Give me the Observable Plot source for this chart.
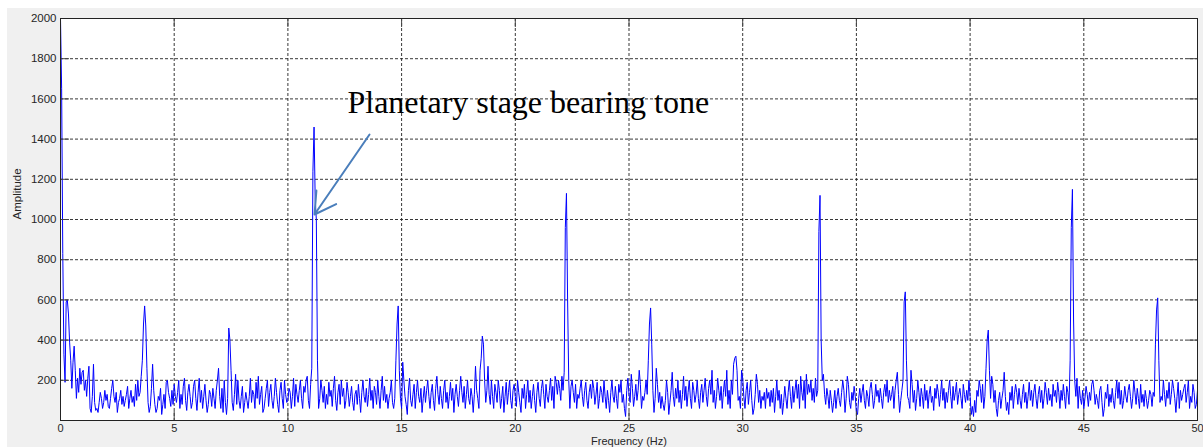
<!DOCTYPE html>
<html>
<head>
<meta charset="utf-8">
<script src="https://cdn.jsdelivr.net/npm/d3@7"></script>
<script src="https://cdn.jsdelivr.net/npm/@observablehq/plot@0.6"></script>
<style>
html, body { margin: 0; padding: 0; background: #ffffff; }
#wrap { position: absolute; left: 7px; top: 8px; width: 1196px; height: 439px; background: #f0f0f0; overflow: hidden; }
</style>
</head>
<body>
<div id="wrap"></div>
<script>
// Spectrum sampled every 0.05 Hz from 0 to 50 Hz (one row = 1 Hz)
const freqStep = 0.05;
const amplitude = [
  2000, 1650, 830, 330, 190, 590, 600, 530, 390, 300, 160, 290, 370, 250, 110, 210, 140, 260, 180, 240,
  250, 150, 200, 120, 210, 270, 60, 40, 120, 280, 90, 50, 60, 40, 90, 140, 110, 60, 90, 150,
  100, 130, 70, 60, 110, 160, 200, 120, 90, 140, 40, 90, 110, 150, 80, 120, 70, 100, 130, 170,
  60, 110, 150, 90, 120, 70, 180, 100, 200, 120, 140, 220, 300, 480, 570, 470, 260, 90, 40, 70,
  160, 280, 150, 80, 40, 60, 120, 100, 160, 30, 80, 130, 60, 190, 200, 140, 110, 70, 150, 80,
  180, 120, 90, 140, 200, 60, 130, 80, 170, 210, 100, 50, 140, 180, 120, 60, 90, 170, 200, 110,
  50, 140, 210, 90, 150, 60, 120, 180, 100, 40, 80, 150, 130, 70, 160, 110, 60, 150, 200, 260,
  120, 60, 160, 40, 200, 90, 30, 110, 460, 400, 250, 90, 50, 130, 230, 80, 200, 100, 60, 120,
  170, 40, 90, 140, 100, 60, 120, 210, 90, 150, 130, 60, 190, 110, 220, 80, 130, 170, 40, 60,
  110, 160, 200, 70, 140, 180, 100, 60, 120, 210, 140, 80, 40, 150, 190, 110, 60, 200, 130, 90,
  100, 160, 140, 60, 120, 210, 70, 180, 130, 90, 150, 200, 110, 60, 170, 140, 200, 220, 100, 60,
  180, 260, 1240, 1460, 1100, 1000, 300, 60, 110, 200, 150, 90, 170, 60, 130, 80, 190, 120, 150, 70,
  160, 220, 100, 50, 140, 180, 80, 200, 120, 160, 60, 100, 190, 140, 70, 120, 170, 90, 50, 130,
  150, 80, 180, 110, 40, 140, 200, 120, 90, 160, 70, 130, 210, 100, 150, 60, 170, 140, 80, 200,
  120, 60, 150, 220, 100, 170, 90, 130, 60, 110, 140, 200, 90, 60, 110, 300, 480, 570, 250, 110,
  60, 290, 200, 120, 80, 30, 150, 210, 100, 70, 130, 180, 60, 140, 200, 120, 90, 160, 40, 110,
  170, 90, 150, 200, 120, 60, 140, 180, 100, 50, 160, 220, 130, 80, 170, 110, 60, 150, 200, 90,
  140, 60, 120, 190, 100, 160, 40, 130, 180, 120, 70, 150, 220, 140, 90, 170, 60, 130, 200, 110,
  80, 160, 120, 40, 130, 270, 150, 110, 60, 250, 310, 420, 380, 200, 90, 150, 270, 130, 80, 200,
  120, 60, 180, 140, 90, 200, 150, 60, 110, 170, 40, 120, 190, 80, 140, 200, 100, 60, 150, 180,
  120, 70, 200, 140, 90, 40, 160, 110, 180, 60, 130, 200, 90, 150, 60, 120, 180, 100, 40, 140,
  190, 110, 70, 160, 200, 130, 60, 180, 120, 90, 150, 210, 100, 170, 60, 220, 190, 130, 200, 160,
  100, 220, 150, 240, 960, 1130, 600, 200, 60, 170, 200, 140, 90, 180, 60, 130, 110, 160, 200, 120,
  70, 150, 190, 100, 60, 140, 180, 110, 200, 160, 80, 130, 190, 60, 110, 170, 140, 90, 200, 120,
  60, 150, 100, 40, 140, 200, 120, 90, 170, 110, 60, 180, 140, 200, 90, 130, 60, 20, 150, 210,
  130, 90, 230, 160, 70, 120, 180, 100, 150, 250, 180, 60, 120, 100, 140, 200, 130, 300, 480, 560,
  380, 150, 40, 110, 260, 180, 90, 140, 60, 120, 80, 50, 100, 200, 140, 30, 90, 150, 240, 120,
  70, 160, 110, 200, 90, 150, 60, 130, 220, 100, 170, 70, 140, 200, 110, 60, 190, 150, 90, 130,
  200, 110, 60, 140, 180, 90, 150, 210, 120, 70, 160, 200, 130, 250, 90, 150, 60, 120, 210, 150,
  100, 170, 60, 140, 200, 120, 250, 80, 150, 60, 200, 130, 280, 310, 320, 250, 100, 120, 60, 250,
  210, 120, 60, 150, 190, 80, 140, 200, 100, 30, 60, 130, 230, 180, 90, 150, 60, 120, 100, 140,
  60, 160, 110, 140, 70, 150, 90, 160, 40, 120, 200, 100, 150, 60, 130, 30, 90, 170, 110, 60,
  140, 200, 120, 60, 170, 90, 150, 200, 110, 180, 60, 220, 140, 100, 200, 60, 230, 130, 180, 140,
  200, 100, 160, 90, 210, 120, 150, 940, 1120, 400, 200, 230, 130, 80, 160, 120, 60, 150, 100, 40,
  90, 150, 60, 120, 160, 100, 70, 140, 200, 150, 40, 110, 220, 180, 90, 60, 140, 100, 170, 120,
  40, 30, 110, 160, 90, 140, 180, 100, 60, 150, 120, 70, 160, 190, 130, 60, 100, 180, 120, 150,
  90, 160, 110, 60, 140, 180, 120, 200, 90, 150, 100, 130, 170, 60, 150, 200, 240, 130, 40, 100,
  150, 200, 590, 640, 300, 120, 100, 60, 250, 180, 90, 150, 50, 110, 200, 140, 70, 160, 120, 60,
  180, 100, 150, 60, 130, 170, 90, 120, 50, 160, 110, 180, 140, 70, 130, 200, 100, 160, 60, 140,
  90, 150, 200, 120, 60, 170, 100, 140, 190, 80, 130, 160, 110, 60, 180, 130, 90, 150, 100, 200,
  120, 30, 70, 20, 100, 40, 150, 120, 200, 160, 90, 180, 60, 120, 260, 400, 450, 250, 110, 220,
  180, 90, 150, 60, 20, 100, 140, 60, 110, 150, 240, 120, 50, 90, 30, 140, 100, 170, 60, 130,
  180, 140, 80, 160, 100, 60, 130, 180, 90, 140, 60, 120, 190, 100, 150, 70, 140, 180, 110, 60,
  130, 170, 90, 150, 60, 110, 190, 140, 80, 160, 100, 130, 70, 180, 120, 150, 90, 190, 140, 60,
  150, 100, 180, 120, 60, 170, 140, 80, 300, 960, 1150, 500, 200, 120, 210, 60, 170, 110, 80, 150,
  60, 110, 170, 130, 70, 140, 100, 180, 200, 150, 80, 130, 100, 60, 150, 170, 90, 20, 60, 140,
  110, 180, 70, 130, 90, 160, 100, 60, 140, 200, 110, 190, 80, 150, 60, 100, 170, 120, 90, 150,
  180, 120, 60, 110, 200, 140, 80, 160, 110, 60, 180, 90, 130, 70, 150, 110, 60, 100, 150, 130,
  70, 140, 120, 380, 550, 610, 300, 90, 120, 100, 200, 130, 70, 150, 110, 190, 80, 130, 200, 160,
  110, 40, 120, 190, 60, 150, 100, 130, 160, 180, 90, 140, 200, 60, 120, 90, 180, 140, 60, 80,
  150
];

const xTicks = [0, 5, 10, 15, 20, 25, 30, 35, 40, 45, 50];
const yTicks = [200, 400, 600, 800, 1000, 1200, 1400, 1600, 1800, 2000];
const xLabel = "Frequency (Hz)";
const yLabel = "Amplitude";

// Annotation (data units)
const annotationText = "Planetary stage bearing tone";
const annotationX = 12.62;
const annotationY = 1532;
const arrowX1 = 13.59, arrowY1 = 1423;
const arrowX2 = 11.17, arrowY2 = 1025;

const series = amplitude.map((a, i) => ({f: Math.round(i * freqStep * 100) / 100, a}));

const W = 1196, H = 439, mL = 53, mT = 10, mR = 6, mB = 27;
const pw = W - mL - mR, ph = H - mT - mB;
const tickLen = 9;
const plain = d => String(d);

const chart = Plot.plot({
  width: W, height: H,
  marginLeft: mL, marginTop: mT, marginRight: mR, marginBottom: mB,
  style: {background: "transparent", fontFamily: "'Liberation Sans', Arial, sans-serif", fontSize: "11px", color: "#262626", overflow: "visible"},
  x: {domain: [0, 50]},
  y: {domain: [0, 2000]},
  marks: [
    Plot.frame({fill: "#ffffff", stroke: null}),
    Plot.gridX(xTicks.filter(t => t > 0 && t < 50), {stroke: "#222", strokeOpacity: 0.9, strokeDasharray: "3,2"}),
    Plot.gridY(yTicks.filter(t => t < 2000), {stroke: "#222", strokeOpacity: 0.9, strokeDasharray: "3,2"}),
    Plot.line(series, {x: "f", y: "a", stroke: "#0000ff", strokeWidth: 1, clip: true}),
    Plot.tickX(xTicks, {x: d => d, stroke: "#444", insetTop: ph - tickLen}),
    Plot.tickX(xTicks, {x: d => d, stroke: "#444", insetBottom: ph - tickLen}),
    Plot.tickY(yTicks, {y: d => d, stroke: "#444", insetRight: pw - tickLen}),
    Plot.tickY(yTicks, {y: d => d, stroke: "#444", insetLeft: pw - tickLen}),
    Plot.frame({stroke: "#222"}),
    Plot.axisX(xTicks, {tickSize: 0, tickPadding: 4, label: null, fontSize: 11, tickFormat: plain}),
    Plot.axisY(yTicks, {tickSize: 0, tickPadding: 4, label: null, fontSize: 11.5, tickFormat: plain}),
    Plot.text([yLabel], {frameAnchor: "left", dx: -43, rotate: -90, fontSize: 11.5, fill: "#262626"}),
    Plot.text([xLabel], {frameAnchor: "bottom", dy: 24.7, lineAnchor: "bottom", fontSize: 11, fill: "#262626"}),
    Plot.arrow([{x1: arrowX1, y1: arrowY1, x2: arrowX2, y2: arrowY2}], {
      x1: "x1", y1: "y1", x2: "x2", y2: "y2",
      stroke: "#4a7ebb", strokeWidth: 2, headLength: 18, headAngle: 60, bend: 0
    }),
    Plot.text([{t: annotationText, x: annotationX, y: annotationY}], {
      x: "x", y: "y", text: "t", textAnchor: "start", lineAnchor: "bottom",
      fontFamily: "'Liberation Serif', 'Times New Roman', serif", fontSize: 32, fill: "#000"
    })
  ]
});
document.getElementById("wrap").appendChild(chart);
</script>
</body>
</html>
